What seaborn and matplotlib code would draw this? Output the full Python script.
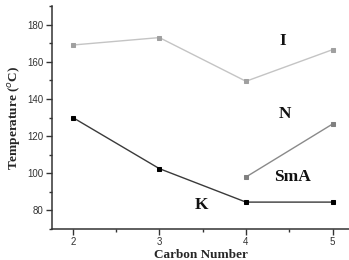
import numpy as np
import pandas as pd
import seaborn as sns
import matplotlib.pyplot as plt
from matplotlib.ticker import MultipleLocator

# dados
carbon_i = [2, 3, 4, 5]
temp_i = [169, 173, 149.5, 166.5]
carbon_k = [2, 3, 4, 5]
temp_k = [130, 102.5, 84.5, 84.5]
carbon_n = [4, 5]
temp_n = [98, 126.5]

phase_labels = ["I", "N", "SmA", "K"]
phase_x = [4.42, 4.45, 4.54, 3.49]
phase_y = [171, 132, 98, 83]

sns.set_style("ticks")
plt.rcParams['font.family'] = ['Liberation Sans', 'DejaVu Sans']

fig = plt.figure(figsize=(3.49, 2.60), dpi=100)
ax = fig.add_axes([0.149, 0.119, 0.851, 0.858])

# I (cinza claro)
sns.lineplot(x=carbon_i, y=temp_i, ax=ax, color='#c4c4c4', lw=1.0,
             marker='s', markersize=3.5, markerfacecolor='#a0a0a0',
             markeredgecolor='#a0a0a0')
# K (preto)
sns.lineplot(x=carbon_k, y=temp_k, ax=ax, color='#3a3a3a', lw=1.0,
             marker='s', markersize=3.5, markerfacecolor='black',
             markeredgecolor='black')
# N / SmA (cinza)
sns.lineplot(x=carbon_n, y=temp_n, ax=ax, color='#8a8a8a', lw=1.0,
             marker='s', markersize=3.5, markerfacecolor='#808080',
             markeredgecolor='#808080')

for lab, xx, yy in zip(phase_labels, phase_x, phase_y):
    ax.text(xx, yy, lab, ha='center', va='center', fontsize=12.5,
            fontweight='bold', family='Liberation Serif', color='#111111')

ax.set_xlim(1.76, 5.19)
ax.set_ylim(70, 190)
ax.set_xticks([2, 3, 4, 5])
ax.set_yticks([80, 100, 120, 140, 160, 180])
ax.xaxis.set_minor_locator(MultipleLocator(0.5))
ax.yaxis.set_minor_locator(MultipleLocator(10))

ax.set_xlabel("Carbon Number", fontsize=9.5, fontweight='bold',
              family='Liberation Serif', labelpad=1)
ax.set_ylabel("Temperature ($^{o}$C)", fontsize=9.5, fontweight='bold',
              family='Liberation Serif', labelpad=3)

ax.tick_params(axis='both', which='major', length=4, width=1,
               labelsize=7, colors='#333333', pad=2)
ax.tick_params(axis='both', which='minor', length=2, width=1, colors='#333333')
for s in ['left', 'bottom']:
    ax.spines[s].set_linewidth(1.1)
    ax.spines[s].set_color('#333333')
sns.despine(ax=ax)

fig.savefig("out.png", dpi=100)
